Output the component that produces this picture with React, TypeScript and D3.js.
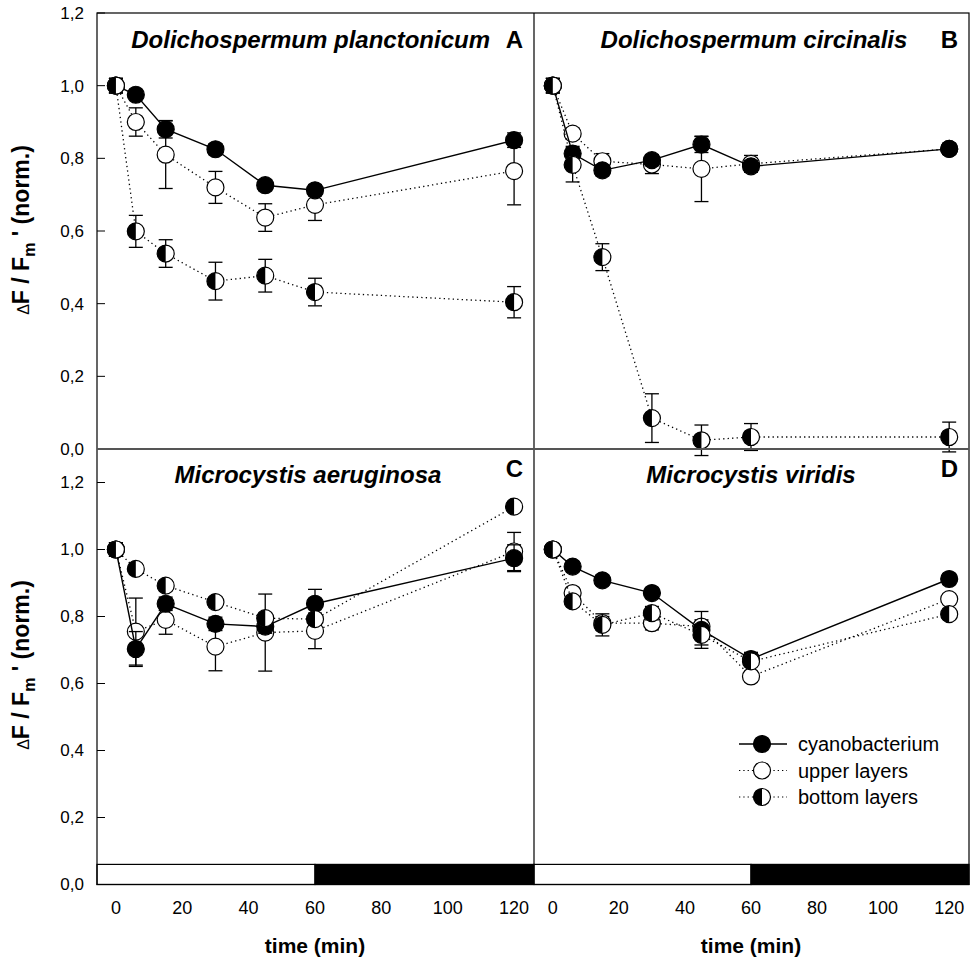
import React, { useEffect } from "react";
import * as d3 from "d3";

// sampling times (min)
const times = [0, 6, 15, 30, 45, 60, 120];

// panel A - Dolichospermum planctonicum
const cyanoA = [1.0, 0.975, 0.88, 0.825, 0.726, 0.712, 0.85];
const cyanoAErr = [0.02, 0.01, 0.024, 0.015, 0.015, 0.015, 0.02];
const upperA = [1.0, 0.9, 0.81, 0.72, 0.637, 0.672, 0.765];
const upperAErr = [0.02, 0.039, 0.093, 0.044, 0.038, 0.043, 0.093];
const bottomA = [1.0, 0.599, 0.538, 0.462, 0.477, 0.432, 0.404];
const bottomAErr = [0.02, 0.044, 0.038, 0.052, 0.045, 0.038, 0.043];

// panel B - Dolichospermum circinalis
const cyanoB = [1.0, 0.813, 0.767, 0.795, 0.838, 0.778, 0.826];
const cyanoBErr = [0.02, 0.02, 0.015, 0.015, 0.022, 0.015, 0.015];
const upperB = [1.0, 0.868, 0.792, 0.783, 0.771, 0.785, 0.826];
const upperBErr = [0.02, 0.015, 0.021, 0.025, 0.09, 0.023, 0.015];
const bottomB = [1.0, 0.782, 0.528, 0.085, 0.024, 0.033, 0.033];
const bottomBErr = [0.02, 0.047, 0.037, 0.067, 0.042, 0.037, 0.041];

// panel C - Microcystis aeruginosa
const cyanoC = [1.0, 0.703, 0.838, 0.778, 0.77, 0.838, 0.974];
const cyanoCErr = [0.02, 0.052, 0.02, 0.02, 0.02, 0.043, 0.04];
const upperC = [1.0, 0.755, 0.79, 0.71, 0.752, 0.757, 0.994];
const upperCErr = [0.02, 0.1, 0.043, 0.072, 0.115, 0.053, 0.057];
const bottomC = [1.0, 0.942, 0.892, 0.843, 0.795, 0.792, 1.128];
const bottomCErr = [0.02, 0.015, 0.015, 0.015, 0.015, 0.015, 0.015];

// panel D - Microcystis viridis
const cyanoD = [1.0, 0.949, 0.908, 0.87, 0.76, 0.673, 0.912];
const cyanoDErr = [0.015, 0.015, 0.015, 0.015, 0.055, 0.02, 0.015];
const upperD = [1.0, 0.87, 0.78, 0.78, 0.77, 0.621, 0.852];
const upperDErr = [0.015, 0.015, 0.02, 0.02, 0.02, 0.015, 0.015];
const bottomD = [1.0, 0.845, 0.775, 0.81, 0.745, 0.666, 0.807];
const bottomDErr = [0.015, 0.015, 0.033, 0.02, 0.03, 0.015, 0.015];

const xTicks = [0, 20, 40, 60, 80, 100, 120];
const yTicksTop = [0, 0.2, 0.4, 0.6, 0.8, 1.0, 1.2];
const yTicksBottom = [0, 0.2, 0.4, 0.6, 0.8, 1.0, 1.2];
const legendLabels = ["cyanobacterium", "upper layers", "bottom layers"];

const FONT = "'Liberation Sans', Arial, sans-serif";
const R = 8.5;

type Series = { kind: "cyano" | "upper" | "bottom"; values: number[]; err: number[] };

const Marker = ({ kind, cx, cy }: { kind: string; cx: number; cy: number }) => {
  if (kind === "cyano") return <circle cx={cx} cy={cy} r={R} fill="#000" stroke="#000" strokeWidth={1.2} />;
  if (kind === "upper") return <circle cx={cx} cy={cy} r={R} fill="#fff" stroke="#000" strokeWidth={1.2} />;
  return (
    <g>
      <circle cx={cx} cy={cy} r={R} fill="#fff" stroke="#000" strokeWidth={1.2} />
      <path d={`M${cx},${cy - R} A${R},${R} 0 0 0 ${cx},${cy + R} Z`} fill="#000" />
    </g>
  );
};

const Panel = ({
  x0, x1, y0, y1, yMax, title, titleX, titleAnchor, titleY, letter, letterY, series, yTicks, showYLabels, timeBar,
}: any) => {
  const x = d3.scaleLinear().domain([-5.7, 126]).range([x0, x1]);
  const y = d3.scaleLinear().domain([0, yMax]).range([y1, y0]);
  const line = d3.line<number>().x((_, i) => x(times[i])).y((v) => y(v));
  const fmt = (v: number) => d3.format(".1f")(v).replace(".", ",");

  return (
    <g>
      {timeBar && (
        <g>
          <rect x={x(-5.7)} y={y(0.06)} width={x(60) - x(-5.7)} height={y(0) - y(0.06)} fill="#fff" stroke="#000" strokeWidth={1.2} />
          <rect x={x(60)} y={y(0.06)} width={x(126) - x(60)} height={y(0) - y(0.06)} fill="#000" stroke="#000" strokeWidth={1.2} />
        </g>
      )}
      {yTicks.map((t: number) => (
        <line key={t} x1={x0} x2={x0 + 8} y1={y(t)} y2={y(t)} stroke="#000" strokeWidth={1} />
      ))}
      {showYLabels &&
        yTicks.map((t: number) => (
          <text key={"l" + t} x={x0 - 13} y={y(t)} dy="0.35em" textAnchor="end" fontSize={17} fontFamily={FONT}>
            {fmt(t)}
          </text>
        ))}
      <text x={titleX} y={titleY} textAnchor={titleAnchor} fontSize={24} fontWeight="bold" fontStyle="italic" fontFamily={FONT}>
        {title}
      </text>
      <text x={x1 - 11} y={letterY} textAnchor="end" fontSize={24} fontWeight="bold" fontFamily={FONT}>
        {letter}
      </text>
      {series.map((s: Series) => (
        <g key={s.kind}>
          <path
            d={line(s.values) || ""}
            fill="none"
            stroke="#000"
            strokeWidth={s.kind === "cyano" ? 1.4 : 1.3}
            strokeDasharray={s.kind === "cyano" ? undefined : "1.3,3.2"}
          />
          {s.values.map((v, i) => (
            <g key={"e" + i}>
              <line x1={x(times[i])} x2={x(times[i])} y1={y(v - s.err[i])} y2={y(v + s.err[i])} stroke="#000" strokeWidth={1.3} />
              <line x1={x(times[i]) - 7} x2={x(times[i]) + 7} y1={y(v - s.err[i])} y2={y(v - s.err[i])} stroke="#000" strokeWidth={1.3} />
              <line x1={x(times[i]) - 7} x2={x(times[i]) + 7} y1={y(v + s.err[i])} y2={y(v + s.err[i])} stroke="#000" strokeWidth={1.3} />
            </g>
          ))}
          {s.values.map((v, i) => (
            <Marker key={"m" + i} kind={s.kind} cx={x(times[i])} cy={y(v)} />
          ))}
        </g>
      ))}
    </g>
  );
};

const mk = (c: number[], ce: number[], u: number[], ue: number[], b: number[], be: number[]): Series[] => [
  { kind: "upper", values: u, err: ue },
  { kind: "cyano", values: c, err: ce },
  { kind: "bottom", values: b, err: be },
];

const YLabel = ({ cx, cy }: { cx: number; cy: number }) => (
  <text transform={`translate(${cx},${cy}) rotate(-90)`} textAnchor="middle" fontFamily={FONT} fontWeight="bold" fontSize={23}>
    <tspan fontSize={16} fontWeight="normal">Δ</tspan>
    <tspan>F / F</tspan>
    <tspan fontSize={16} dy={6}>m</tspan>
    <tspan dy={-6}> ' (norm.)</tspan>
  </text>
);

export default function App() {
  useEffect(() => {
    document.body.style.margin = "0";
  }, []);

  const L = 97, M = 534, Rt = 969, T = 13, Mid = 449, B = 884.5;

  return (
    <svg width={972} height={966} style={{ display: "block", background: "#fff" }}>
      <rect x={0} y={0} width={972} height={966} fill="#fff" />
      <Panel x0={L} x1={M} y0={T} y1={Mid} yMax={1.2} title="Dolichospermum planctonicum" titleX={490} titleAnchor="end" titleY={48}
        letter="A" letterY={48} series={mk(cyanoA, cyanoAErr, upperA, upperAErr, bottomA, bottomAErr)} yTicks={yTicksTop} showYLabels />
      <Panel x0={M} x1={Rt} y0={T} y1={Mid} yMax={1.2} title="Dolichospermum circinalis" titleX={754} titleAnchor="middle" titleY={48}
        letter="B" letterY={48} series={mk(cyanoB, cyanoBErr, upperB, upperBErr, bottomB, bottomBErr)} yTicks={[]} showYLabels={false} />
      <Panel x0={L} x1={M} y0={Mid} y1={B} yMax={1.3} title="Microcystis aeruginosa" titleX={308} titleAnchor="middle" titleY={483}
        letter="C" letterY={477} series={mk(cyanoC, cyanoCErr, upperC, upperCErr, bottomC, bottomCErr)} yTicks={yTicksBottom} showYLabels timeBar />
      <Panel x0={M} x1={Rt} y0={Mid} y1={B} yMax={1.3} title="Microcystis viridis" titleX={751} titleAnchor="middle" titleY={483}
        letter="D" letterY={477} series={mk(cyanoD, cyanoDErr, upperD, upperDErr, bottomD, bottomDErr)} yTicks={[]} showYLabels={false} timeBar />

      {/* frame and dividers */}
      <rect x={L} y={T} width={Rt - L} height={B - T} fill="none" stroke="#000" strokeWidth={1.2} />
      <line x1={M} x2={M} y1={T} y2={B} stroke="#000" strokeWidth={1.2} />
      <line x1={L} x2={Rt} y1={Mid} y2={Mid} stroke="#555" strokeWidth={2} />

      {/* x tick labels */}
      {[[L, M], [M, Rt]].map(([a, b], k) => {
        const x = d3.scaleLinear().domain([-5.7, 126]).range([a, b]);
        return (
          <g key={k}>
            {xTicks.map((t) => (
              <text key={t} x={x(t)} y={914} textAnchor="middle" fontSize={18} fontFamily={FONT}>
                {t}
              </text>
            ))}
            <text x={x(60)} y={953} textAnchor="middle" fontSize={21} fontWeight="bold" fontFamily={FONT}>
              time (min)
            </text>
          </g>
        );
      })}

      <YLabel cx={29} cy={230} />
      <YLabel cx={29} cy={665} />

      {/* legend */}
      {legendLabels.map((lab, i) => {
        const ly = 744 + i * 26.5;
        const kind = i === 0 ? "cyano" : i === 1 ? "upper" : "bottom";
        return (
          <g key={lab}>
            <line x1={739} x2={787} y1={ly} y2={ly} stroke="#000" strokeWidth={i === 0 ? 1.4 : 1.2} strokeDasharray={i === 0 ? undefined : "1.3,3"} />
            <Marker kind={kind} cx={762} cy={ly} />
            <text x={798} y={ly} dy="0.35em" fontSize={20} fontFamily={FONT}>
              {lab}
            </text>
          </g>
        );
      })}
    </svg>
  );
}
